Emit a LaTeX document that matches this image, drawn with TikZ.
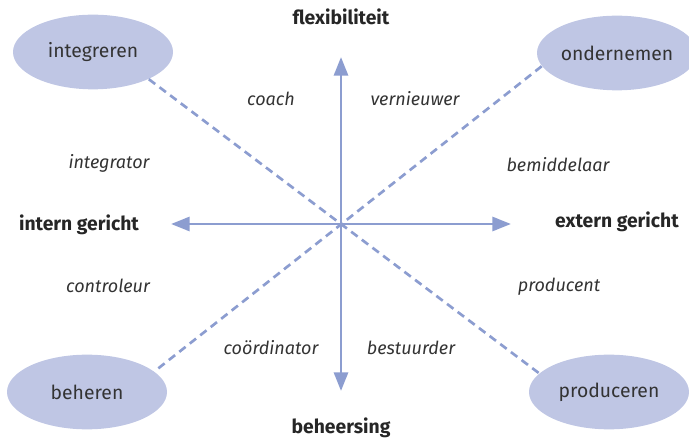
\documentclass[tikz,border=0pt]{standalone}
\usepackage{fontspec}
\setmainfont{Fira Sans}
\usetikzlibrary{shapes.geometric,arrows.meta}
\definecolor{axisblue}{HTML}{8C9DD0}
\definecolor{ellfill}{HTML}{BFC6E4}
\definecolor{txtgray}{HTML}{333333}
\tikzset{every picture/.style={line width=0.75pt}}
\tikzset{
  quadrant/.style={ellipse, fill=ellfill, minimum width=120pt, minimum height=56pt, inner sep=0pt, text=txtgray, font=\fontsize{14.5}{16}\selectfont},
  role/.style={inner sep=0.75pt, text=txtgray, font=\fontsize{13.5}{16}\selectfont\itshape},
  axislabel/.style={inner sep=0.75pt, text=black!85, font=\fontsize{14.5}{17}\selectfont\bfseries},
  axisarrow/.style={draw=axisblue, line width=2.2pt, -{Triangle[length=14pt,width=10.5pt]}},
  diagonal/.style={draw=axisblue, line width=2pt, dash pattern=on 6pt off 4pt}
}

\begin{document}
\begin{tikzpicture}[x=0.75pt,y=0.75pt,yscale=-1,xscale=1]
\useasboundingbox (0,0) rectangle (689,441);

% Ellipses
\node [quadrant] (integreren) at (93,52) {integreren};
\node [quadrant] (ondernemen) at (617,53) {ondernemen};
\node [quadrant] (beheren) at (87,392) {beheren};
\node [quadrant] (produceren) at (609,392) {produceren};

% Axis ends
\coordinate (ctr) at (341,224);
\coordinate (top) at (341,57);
\coordinate (bottom) at (341,391);
\coordinate (left) at (171,224);
\coordinate (right) at (511,224);

% Diagonals
\draw [diagonal] (integreren.-26) -- (produceren.165);
\draw [diagonal] (ondernemen.190) -- (beheren.17);

% Axes
\draw [axisarrow] (ctr) -- (top);
\draw [axisarrow] (ctr) -- (bottom);
\draw [axisarrow] (ctr) -- (left);
\draw [axisarrow] (ctr) -- (right);

% Axis labels
\node [axislabel] (flex) at (341,17) {flexibiliteit};
\node [axislabel] (beh) at (341,428) {beheersing};
\node [axislabel] (intern) at (79,225) {intern gericht};
\node [axislabel] (extern) at (617,222) {extern gericht};

% Roles
\node [role] (coach) at (271,99) {coach};
\node [role] (vernieuwer) at (415,99) {vernieuwer};
\node [role] (integrator) at (109,163) {integrator};
\node [role] (bemiddelaar) at (558,165) {bemiddelaar};
\node [role] (controleur) at (108,286) {controleur};
\node [role] (producent) at (559,287) {producent};
\node [role] (coordinator) at (271,348) {coördinator};
\node [role] (bestuurder) at (411,348) {bestuurder};

\end{tikzpicture}
\end{document}
